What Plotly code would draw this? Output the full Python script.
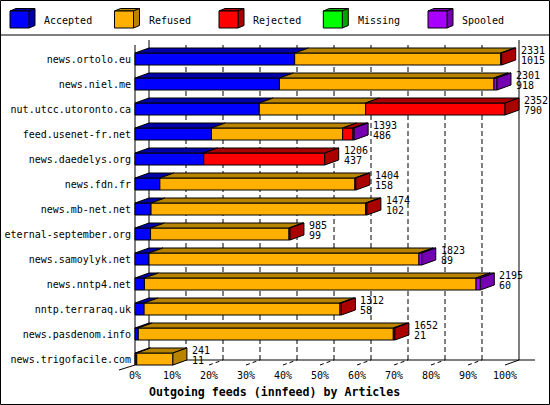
import plotly.graph_objects as go

# ---------------- data ----------------
hosts = ["news.ortolo.eu", "news.niel.me", "nut.utcc.utoronto.ca", "feed.usenet-fr.net",
         "news.daedelys.org", "news.fdn.fr", "news.mb-net.net", "eternal-september.org",
         "news.samoylyk.net", "news.nntp4.net", "nntp.terraraq.uk", "news.pasdenom.info",
         "news.trigofacile.com"]
offered = [2331, 2301, 2352, 1393, 1206, 1404, 1474, 985, 1823, 2195, 1312, 1652, 241]
accepted = [1015, 918, 790, 486, 437, 158, 102, 99, 89, 60, 58, 21, 11]
refused = [1310, 1364, 676, 834, 0, 1240, 1364, 880, 1716, 2108, 1245, 1621, 230]
rejected = [6, 0, 886, 65, 769, 6, 8, 6, 0, 0, 9, 10, 0]
missing = [0, 0, 0, 0, 0, 0, 0, 0, 0, 0, 0, 0, 0]
spooled = [0, 19, 0, 8, 0, 0, 0, 0, 18, 27, 0, 0, 0]
series_names = ["Accepted", "Refused", "Rejected", "Missing", "Spooled"]
x_ticks = [0, 10, 20, 30, 40, 50, 60, 70, 80, 90, 100]
x_tick_labels = ["0%", "10%", "20%", "30%", "40%", "50%", "60%", "70%", "80%", "90%", "100%"]
x_title = "Outgoing feeds (innfeed) by Articles"

# ---------------- style ----------------
front_colors = ["#0000FF", "#FFB000", "#FF0000", "#00FF00", "#A800FF"]
dark_colors = ["#0000A8", "#B88400", "#AA0000", "#00A400", "#7400B0"]
MONO = "DejaVu Sans Mono"
W, H = 550, 405
PL, PR, PT, PB = 134, 549, 36, 404          # plot area in pixels
X0_PX, PX_PER_PCT = 135, 3.7               # 0 % position and scale
ROW0_PX, ROW_STEP = 59, 25
n = len(hosts)
Y_BASE = ROW0_PX + ROW_STEP * (n - 1)


def xv(px):
    return (px - X0_PX) / PX_PER_PCT


def yv(py):
    return (Y_BASE - py) / ROW_STEP


def xp(px):
    return (px - PL) / (PR - PL)


def yp(py):
    return (PB - py) / (PB - PT)


DX = 14 / PX_PER_PCT
DY = 5 / ROW_STEP
HH = 6 / ROW_STEP
maxv = max(offered)
series = [accepted, refused, rejected, missing, spooled]

fig = go.Figure()

# ---------------- back planes / grid ----------------
fl_front = yv(365)
fl_back = fl_front + DY
top_grid = yv(45)
gx, gy = [], []
for p in x_ticks[1:-1]:
    gx += [p + DX, p + DX, None]
    gy += [fl_back, top_grid, None]
fig.add_trace(go.Scatter(x=gx, y=gy, mode="lines", line=dict(color="black", width=1, dash="5px,3px"),
                         hoverinfo="skip", showlegend=False))
# slanted floor ticks
tx, ty = [], []
for p in x_ticks[1:-1]:
    tx += [p, p + DX, None]
    ty += [fl_front, fl_back, None]
fig.add_trace(go.Scatter(x=tx, y=ty, mode="lines", line=dict(color="black", width=1, dash="4px,3px"),
                         hoverinfo="skip", showlegend=False))
# solid walls and floor
wx = [DX, DX, None, 100 + DX, 100 + DX, None, 0, 0, None, DX, xv(535), None, 100, 100 + DX]
wy = [fl_back, yv(40), None, fl_back, yv(40), None, fl_front, yv(45), None, fl_back, fl_back, None,
      fl_front, fl_back]
fig.add_trace(go.Scatter(x=wx, y=wy, mode="lines", line=dict(color="black", width=1),
                         hoverinfo="skip", showlegend=False))

# ---------------- 3D bars ----------------
front = {k: ([], []) for k in range(5)}
topf = {k: ([], []) for k in range(5)}
cap = {k: ([], []) for k in range(5)}
for i in range(n):
    v = n - 1 - i
    x0 = 0.0
    last = None
    for k in range(5):
        c = series[k][i]
        if c <= 0:
            continue
        x1 = x0 + c / maxv * 100
        fx, fy = front[k]
        fx += [x0, x1, x1, x0, x0, None]
        fy += [v - HH, v - HH, v + HH, v + HH, v - HH, None]
        tx_, ty_ = topf[k]
        tx_ += [x0, x1, x1 + DX, x0 + DX, x0, None]
        ty_ += [v + HH, v + HH, v + HH + DY, v + HH + DY, v + HH, None]
        last = (k, x1)
        x0 = x1
    if last:
        k, x1 = last
        cx, cy = cap[k]
        cx += [x1, x1 + DX, x1 + DX, x1, x1, None]
        cy += [v - HH, v - HH + DY, v + HH + DY, v + HH, v - HH, None]

for k in range(5):
    for dct, col in ((front, front_colors[k]), (topf, dark_colors[k]), (cap, dark_colors[k])):
        xs, ys = dct[k]
        if xs:
            fig.add_trace(go.Scatter(x=xs, y=ys, mode="lines", fill="toself", fillcolor=col,
                                     line=dict(color="black", width=1), hoverinfo="skip",
                                     showlegend=False, name=series_names[k]))

annotations = []
# value labels
for i in range(n):
    v = n - 1 - i
    xe = offered[i] / maxv * 100 + DX + 3 / PX_PER_PCT
    annotations.append(dict(x=xe, y=v + 0.36, text=str(offered[i])))
    annotations.append(dict(x=xe, y=v - 0.06, text=str(accepted[i])))
for a in annotations:
    a.update(xref="x", yref="y", xanchor="left", yanchor="middle", showarrow=False,
             font=dict(family=MONO, size=10, color="black"))

# x tick labels
for p, t in zip(x_ticks, x_tick_labels):
    annotations.append(dict(x=p, y=yv(375), xref="x", yref="y", text=t, showarrow=False,
                            xanchor="center", yanchor="middle",
                            font=dict(family=MONO, size=10, color="black")))
# x title
annotations.append(dict(x=xp(274), y=yp(392), xref="paper", yref="paper", text=x_title,
                        showarrow=False, xanchor="center", yanchor="middle",
                        font=dict(family=MONO, size=11.6, color="black", weight="bold")))

shapes = []
# outer border and legend separator
shapes.append(dict(type="rect", xref="paper", yref="paper", x0=xp(0.5), x1=xp(549.5),
                   y0=yp(0.5), y1=yp(404.5), line=dict(color="black", width=1)))
shapes.append(dict(type="line", xref="paper", yref="paper", x0=xp(0), x1=xp(550),
                   y0=yp(35), y1=yp(35), line=dict(color="black", width=1)))
# left floor slant
shapes.append(dict(type="line", xref="paper", yref="paper", x0=xp(119), x1=xp(135),
                   y0=yp(370), y1=yp(365), line=dict(color="black", width=1)))

# legend
leg_x = [10, 114.5, 219, 323.3, 428]
for k in range(5):
    bx = leg_x[k]
    l, r, t, b = bx, bx + 19, 11, 28
    ddx, ddy = 6, 2.5
    shapes.append(dict(type="path", xref="paper", yref="paper",
                       path=f"M{xp(l)},{yp(t)} L{xp(r)},{yp(t)} L{xp(r + ddx)},{yp(t - ddy)} L{xp(l + ddx)},{yp(t - ddy)} Z",
                       fillcolor=dark_colors[k], line=dict(color="black", width=1)))
    shapes.append(dict(type="path", xref="paper", yref="paper",
                       path=f"M{xp(r)},{yp(t)} L{xp(r + ddx)},{yp(t - ddy)} L{xp(r + ddx)},{yp(b - ddy)} L{xp(r)},{yp(b)} Z",
                       fillcolor=dark_colors[k], line=dict(color="black", width=1)))
    shapes.append(dict(type="rect", xref="paper", yref="paper", x0=xp(l), x1=xp(r),
                       y0=yp(b), y1=yp(t), fillcolor=front_colors[k], line=dict(color="black", width=1)))
    annotations.append(dict(x=xp(bx + 32.3), y=yp(20), xref="paper", yref="paper",
                            text=series_names[k], showarrow=False, xanchor="left", yanchor="middle",
                            font=dict(family=MONO, size=10, color="black")))

fig.update_layout(
    width=W, height=H,
    margin=dict(l=PL, r=W - PR, t=PT, b=H - PB, pad=0),
    paper_bgcolor="white", plot_bgcolor="white",
    showlegend=False,
    xaxis=dict(range=[xv(PL), xv(PR)], showgrid=False, zeroline=False, showticklabels=False,
               showline=False, ticks="", fixedrange=True),
    yaxis=dict(range=[yv(PB), yv(PT)], showgrid=False, zeroline=False, showline=False,
               tickmode="array", tickvals=[n - 1 - i for i in range(n)], ticktext=hosts,
               ticks="", tickfont=dict(family=MONO, size=10, color="black"),
               ticklabelstandoff=2, fixedrange=True),
    annotations=annotations,
    shapes=shapes,
)

fig.write_html("out.html", config={"displayModeBar": False},
               post_script="document.body.style.margin='0';document.body.style.overflow='hidden';")
